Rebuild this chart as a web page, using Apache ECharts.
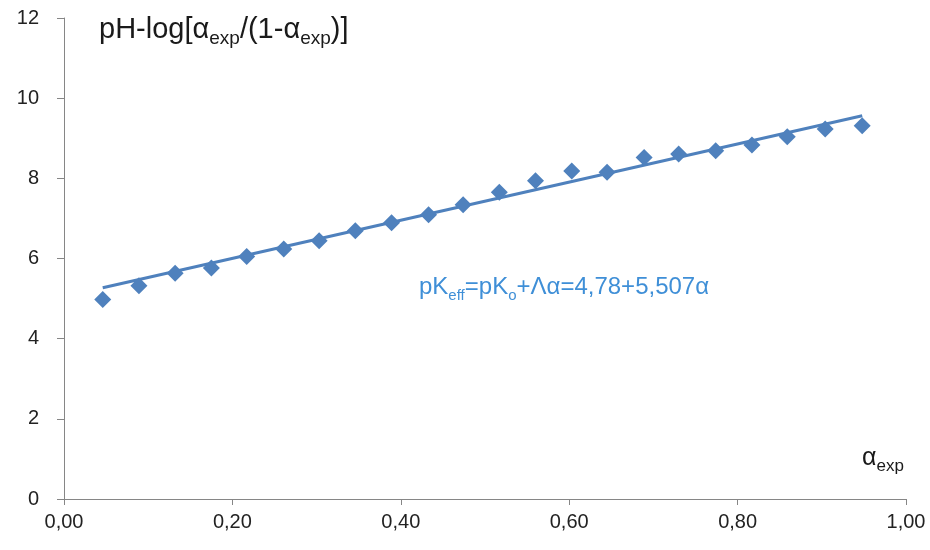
<!DOCTYPE html>
<html><head><meta charset="utf-8">
<script src="https://cdn.jsdelivr.net/npm/echarts@6/dist/echarts.min.js"></script>
<style>html,body{margin:0;padding:0;background:#fff}#c{width:930px;height:550px}</style>
</head><body><div id="c"></div>
<script>
const alphaExp = [0.046, 0.089, 0.132, 0.175, 0.217, 0.261, 0.303, 0.346, 0.389, 0.433, 0.474, 0.517, 0.560, 0.603, 0.645, 0.689, 0.730, 0.774, 0.817, 0.859, 0.904, 0.948];
const pHvalues = [4.98, 5.32, 5.63, 5.76, 6.05, 6.24, 6.44, 6.69, 6.89, 7.09, 7.34, 7.65, 7.94, 8.18, 8.15, 8.52, 8.61, 8.69, 8.83, 9.04, 9.23, 9.31];
const trendX = [0.046, 0.948];
const trendY = [5.27, 9.56];
const xTicks = [0, 0.2, 0.4, 0.6, 0.8, 1.0];
const yTicks = [0, 2, 4, 6, 8, 10, 12];

const blue = '#4F81BD';
const chart = echarts.init(document.getElementById('c'), null, {renderer: 'canvas'});
const font = 'Liberation Sans, Arial, sans-serif';
function rich(color, main, sub, lh) {
  return {
    m: {fontFamily: font, fontSize: main, fontWeight: 'normal', color: color, lineHeight: lh},
    s: {fontFamily: font, fontSize: sub, fontWeight: 'normal', color: color, verticalAlign: 'bottom', lineHeight: lh}
  };
}
chart.setOption({
  animation: false,
  backgroundColor: '#fff',
  grid: {left: 64, right: 24, top: 18, bottom: 51},
  title: [
    {
      left: 94, top: 7,
      text: '{m|pH-log[α}{s|exp}{m|/(1-α}{s|exp}{m|)]}',
      textStyle: {fontWeight: 'normal', rich: rich('#1a1a1a', 29, 19, 36)}
    },
    {
      left: 414, top: 267,
      text: '{m|pK}{s|eff}{m|=pK}{s|o}{m|+Λα=4,78+5,507α}',
      textStyle: {fontWeight: 'normal', rich: rich('#3F8FD7', 24, 15, 31)}
    },
    {
      left: 857, top: 436,
      text: '{m|α}{s|exp}',
      textStyle: {fontWeight: 'normal', rich: rich('#1a1a1a', 25, 17, 34)}
    }
  ],
  xAxis: {
    type: 'value', min: xTicks[0], max: xTicks[xTicks.length - 1], interval: 0.2,
    axisLine: {show: true, onZero: false, lineStyle: {color: '#868686', width: 1}},
    axisTick: {show: true, length: 6, lineStyle: {color: '#868686'}},
    splitLine: {show: false},
    axisLabel: {fontFamily: font, fontSize: 20, color: '#222', margin: 13,
      formatter: v => v.toFixed(2).replace('.', ',')}
  },
  yAxis: {
    type: 'value', min: yTicks[0], max: yTicks[yTicks.length - 1], interval: 2,
    axisLine: {show: true, lineStyle: {color: '#868686', width: 1}},
    axisTick: {show: true, length: 7, lineStyle: {color: '#868686'}},
    splitLine: {show: false},
    axisLabel: {fontFamily: font, fontSize: 20, color: '#222', margin: 25}
  },
  series: [
    {
      type: 'line',
      data: trendX.map((x, i) => [x, trendY[i]]),
      symbol: 'none',
      lineStyle: {color: blue, width: 3},
      z: 2
    },
    {
      type: 'scatter',
      data: alphaExp.map((x, i) => [x, pHvalues[i]]),
      symbol: 'diamond',
      symbolSize: 17,
      itemStyle: {color: blue, opacity: 1},
      z: 3
    }
  ]
});
</script></body></html>
